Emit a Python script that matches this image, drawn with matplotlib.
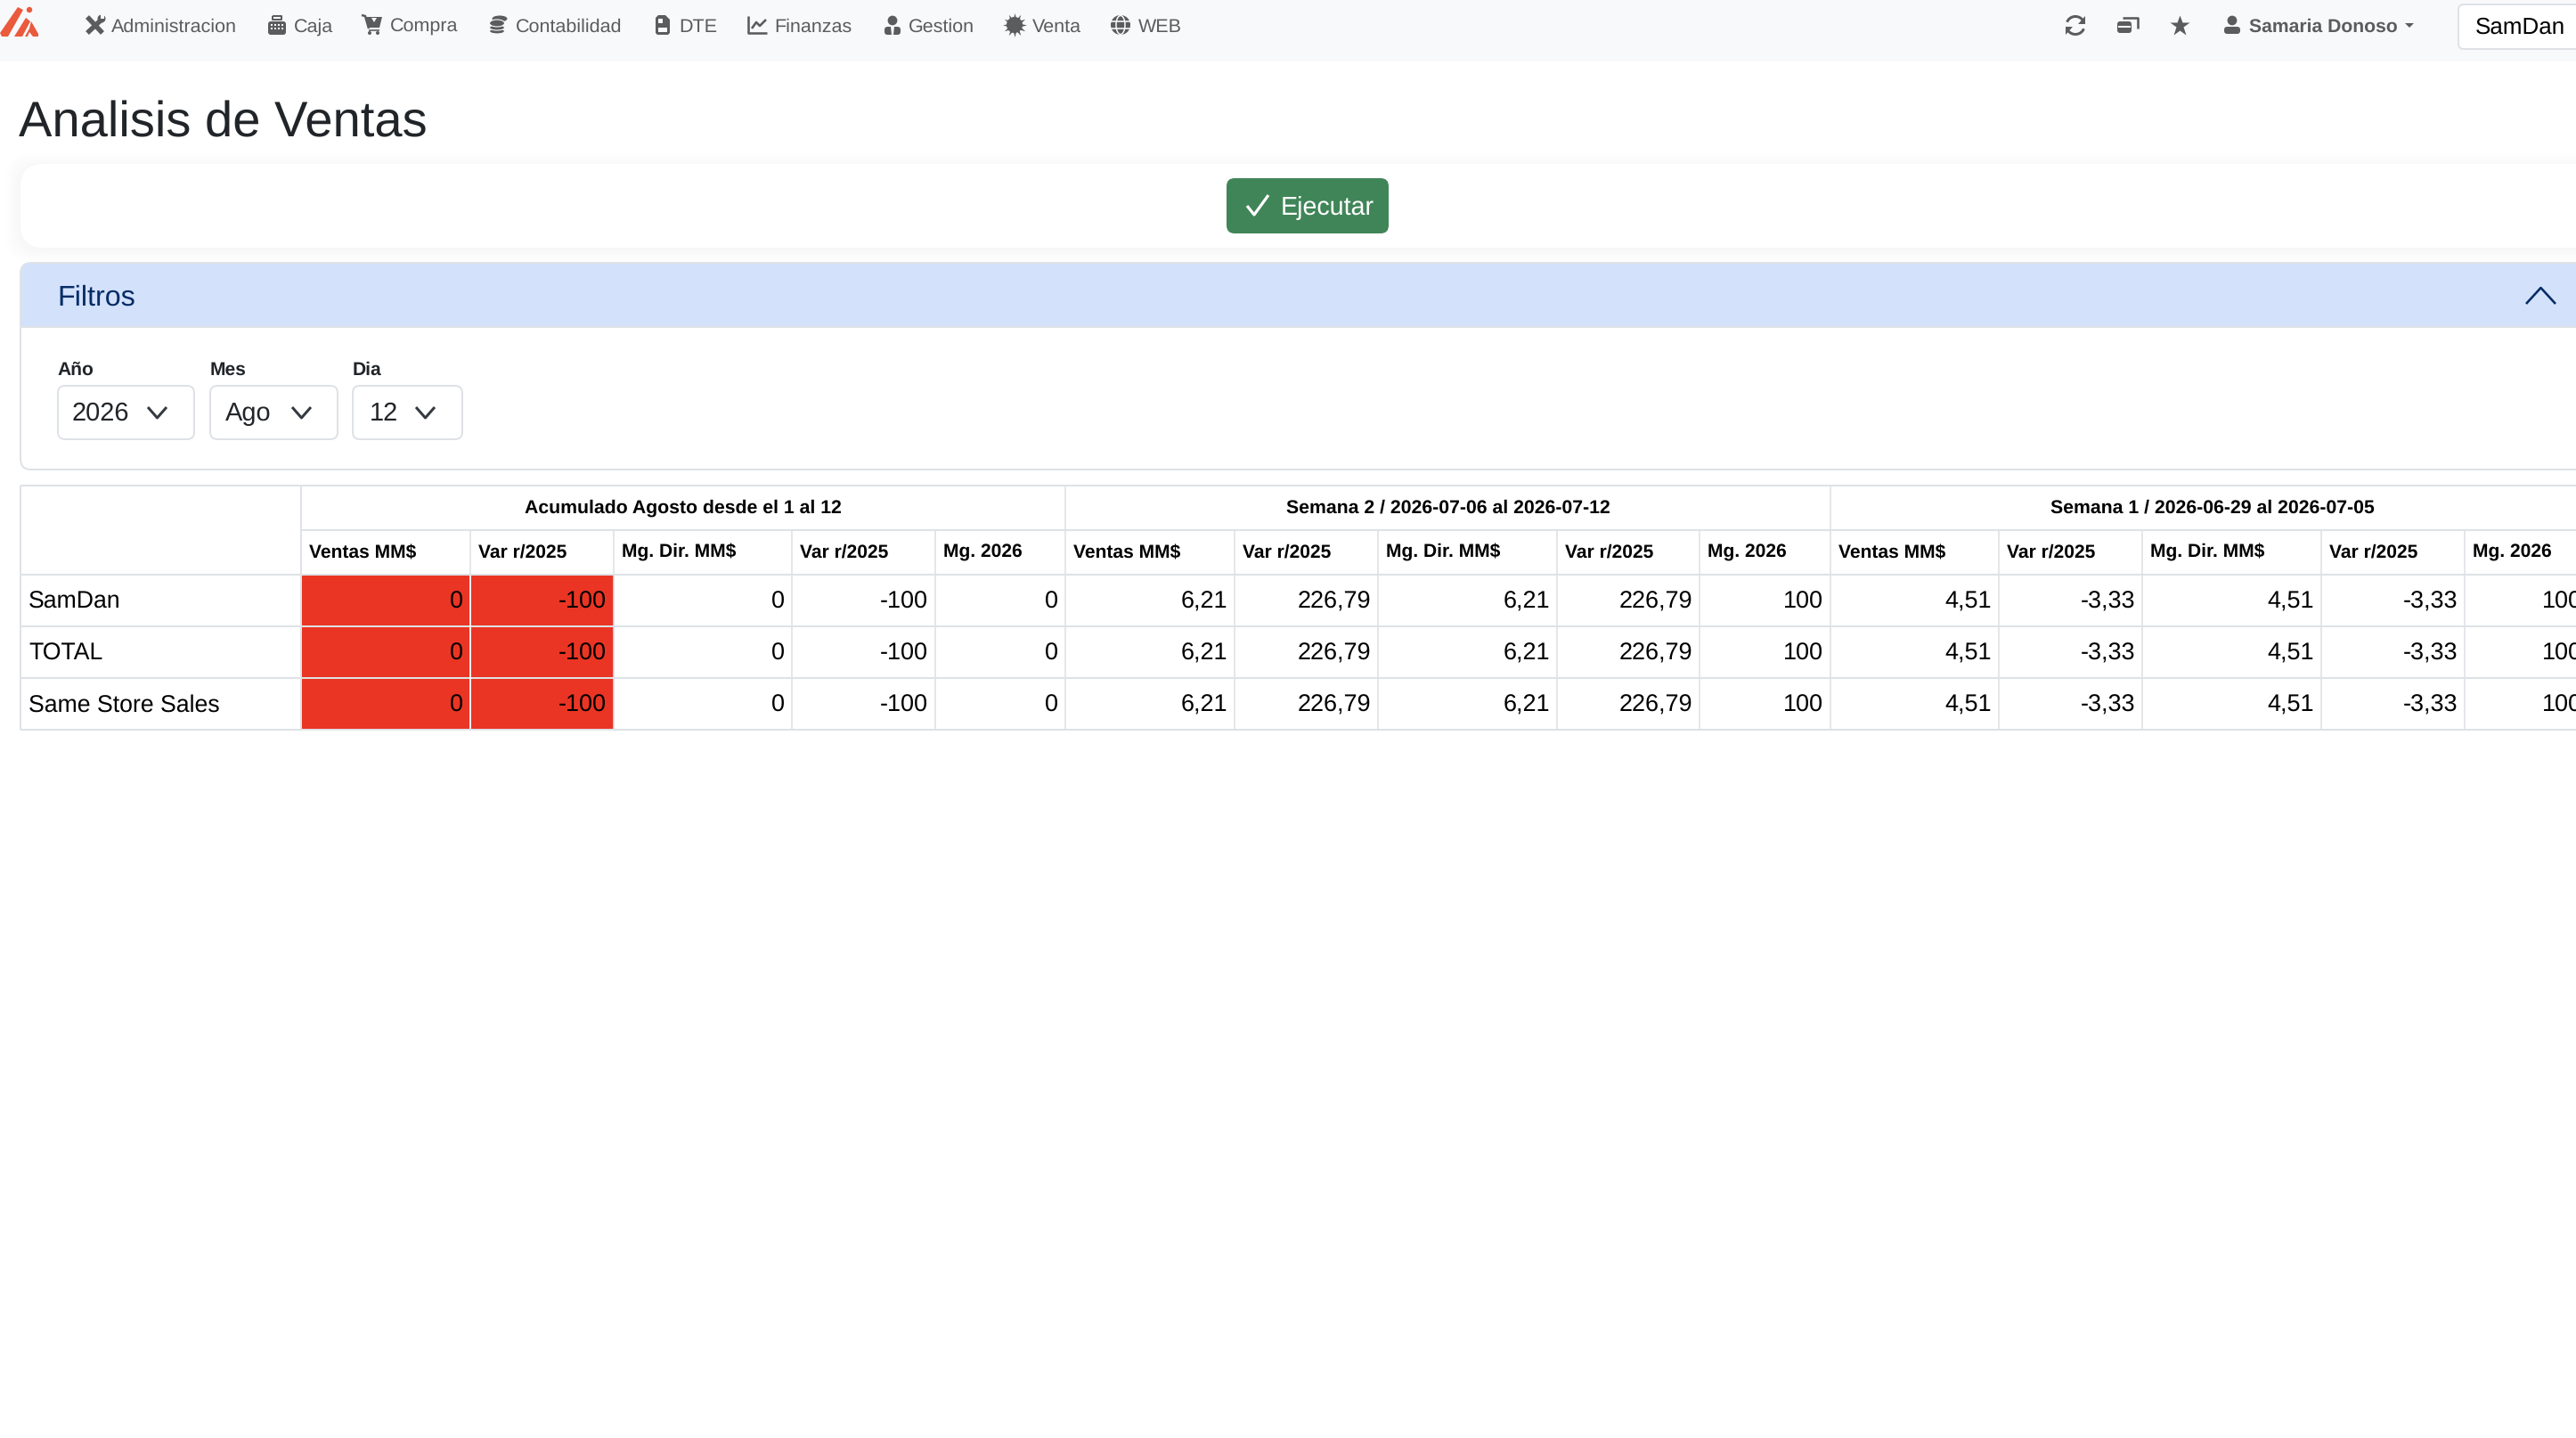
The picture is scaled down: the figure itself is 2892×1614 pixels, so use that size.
import matplotlib
matplotlib.use('Agg')
import matplotlib.pyplot as plt
import numpy as np
from matplotlib.patches import FancyBboxPatch, Rectangle, Polygon, Circle, Ellipse

plt.rcParams['font.family'] = ['Liberation Sans', 'DejaVu Sans']
plt.rcParams['text.hinting'] = 'no_hinting'

# datos de la tabla
filas = ['SamDan', 'TOTAL', 'Same Store Sales']
columnas = ['Ventas MM$', 'Var r/2025', 'Mg. Dir. MM$', 'Var r/2025', 'Mg. 2026']
grupos = ['Acumulado Agosto desde el 1 al 12',
          'Semana 2 / 2026-07-06 al 2026-07-12',
          'Semana 1 / 2026-06-29 al 2026-07-05']
acumulado = ['0', '-100', '0', '-100', '0']
semana2 = ['6,21', '226,79', '6,21', '226,79', '100']
semana1 = ['4,51', '-3,33', '4,51', '-3,33', '100']
valores = acumulado + semana2 + semana1
celdas_rojas = [0, 1]

menu = ['Administracion', 'Caja', 'Compra', 'Contabilidad', 'DTE', 'Finanzas', 'Gestion', 'Venta', 'WEB']
filtros = ['Año', 'Mes', 'Dia']
filtros_valor = ['2026', 'Ago', '12']

# posiciones en pixeles de la captura
W, H = 2892, 1614
x_col = [338, 528, 689, 889, 1050, 1196, 1386, 1547, 1748, 1908, 2055, 2244, 2405, 2606, 2767, 2913]
y_fila = [545, 595, 645, 703, 761, 819]
x_tabla = 23
menu_x = [125, 330, 438, 579, 762, 869, 1020, 1159, 1278]
menu_icono_x = [95, 300, 406, 549, 735, 839, 993, 1128, 1247]
filtro_cajas = [(65, 218), (236, 379), (396, 519)]
filtro_texto_x = [81, 253, 415]
filtro_chevron_x = [166, 328, 467]

BORDE = '#dee2e6'
ROJO = '#ea3524'
GRIS = '#5a5c5e'
AZUL = '#052c65'
NEGRO = '#212529'
FONDO = '#f8f9fa'


def fs(px):
    return px * 0.72


fig = plt.figure(figsize=(W / 100, H / 100), dpi=100, facecolor='white')
ax = fig.add_axes([0, 0, 1, 1])
ax.set_xlim(0, W)
ax.set_ylim(H, 0)
ax.axis('off')


def caja(x0, y0, x1, y1, r=8, fc='white', ec='none', lw=0, z=2, alpha=None):
    p = FancyBboxPatch((x0, y0), x1 - x0, y1 - y0, boxstyle=f'round,pad=0,rounding_size={r}',
                       fc=fc, ec=ec, lw=lw, zorder=z, alpha=alpha)
    ax.add_patch(p)


def rect(x0, y0, x1, y1, c, z=2):
    ax.add_patch(Rectangle((x0, y0), x1 - x0, y1 - y0, fc=c, ec='none', lw=0, zorder=z))


def linea(xs, ys, c=BORDE, lw=2.0, z=4):
    ax.plot(xs, ys, color=c, lw=lw * 0.72, zorder=z, solid_capstyle='butt', solid_joinstyle='round')


def poli(pts, c=GRIS, z=5):
    ax.add_patch(Polygon(pts, fc=c, ec='none', zorder=z))


def chevron(x0, x1, y0, y1, c=NEGRO, lw=3, arriba=False):
    xm = (x0 + x1) / 2
    if arriba:
        linea([x0, xm, x1], [y1, y0, y1], c, lw, 6)
    else:
        linea([x0, xm, x1], [y0, y1, y0], c, lw, 6)


# barra de navegacion
rect(0, 0, W, 69, FONDO)
for t, x in zip(menu, menu_x):
    ax.text(x, 36, t, fontsize=fs(21.5), color=GRIS, ha='left', va='baseline', zorder=5)

# logo
LOGO = '#ea5a3c'
poli([(0, 37), (20, 8), (26, 11), (9, 41), (2, 41)], LOGO)
poli([(16, 41), (29, 20), (34, 24), (25, 41)], LOGO)
poli([(28, 41), (33, 32), (35, 24), (43, 38), (43, 41), (37, 41), (33, 36), (31, 41)], LOGO)
ax.add_patch(Circle((33, 11), 3.2, fc=LOGO, ec='none', zorder=5))


def icono(i):
    x = menu_icono_x[i]
    if i == 0:  # herramientas
        linea([x + 3, x + 20], [19, 37], GRIS, 5.5, 5)
        linea([x + 20, x + 3], [21, 37], GRIS, 5.5, 5)
        ax.add_patch(Circle((x + 19, 21), 4.5, fc=GRIS, ec='none', zorder=5))
        rect(x + 18, 16, x + 22, 21, FONDO, 6)
    elif i == 1:  # caja registradora
        caja(x + 1, 24, x + 21, 39, 3, GRIS, z=5)
        linea([x + 6, x + 16, x + 16, x + 6, x + 6], [17.5, 17.5, 22, 22, 17.5], GRIS, 2, 5)
        for yy in (28, 32):
            for dx in (5, 9, 13, 17):
                rect(x + dx - 1, yy - 1, x + dx + 1, yy + 1, FONDO, 6)
    elif i == 2:  # carrito
        linea([x, x + 4, x + 8], [17, 18, 32], GRIS, 2.5, 5)
        poli([(x + 5, 19), (x + 23, 19), (x + 20, 31), (x + 8, 31)])
        poli([(x + 11, 20), (x + 17, 20), (x + 14, 25)], FONDO, 6)
        linea([x + 8, x + 20], [33.5, 33.5], GRIS, 1.6, 5)
        ax.add_patch(Circle((x + 9, 37), 2, fc=GRIS, ec='none', zorder=5))
        ax.add_patch(Circle((x + 18, 37), 2, fc=GRIS, ec='none', zorder=5))
    elif i == 3:  # monedas
        ax.add_patch(Ellipse((x + 12, 21), 17, 7, fc=GRIS, ec='none', zorder=5))
        ax.add_patch(Ellipse((x + 9, 26), 17, 8, fc=GRIS, ec=FONDO, lw=0.8, zorder=6))
        for yy in (31, 35):
            ax.add_patch(Ellipse((x + 9, yy), 17, 6, fc=GRIS, ec=FONDO, lw=0.8, zorder=5 - yy / 100))
    elif i == 4:  # archivo
        poli([(x + 1, 20), (x + 4, 17), (x + 12, 17), (x + 17, 22), (x + 17, 37), (x + 15, 39), (x + 3, 39), (x + 1, 37)])
        rect(x + 4, 21, x + 9, 26, FONDO, 6)
        rect(x + 4, 31, x + 14, 36, FONDO, 6)
    elif i == 5:  # grafico
        linea([x + 1, x + 1, x + 22], [18, 37, 37], GRIS, 2.6, 5)
        linea([x + 5, x + 10, x + 14, x + 21], [32, 25, 29, 22], GRIS, 2.6, 5)
    elif i == 6:  # persona
        ax.add_patch(Circle((x + 9, 23), 5.4, fc=GRIS, ec='none', zorder=5))
        caja(x, 30, x + 18, 39, 3.5, GRIS, z=5)
        poli([(x + 7, 30), (x + 11, 30), (x + 10, 39), (x + 8, 39)], FONDO, 6)
    elif i == 7:  # sello de venta
        ax.add_patch(Circle((x + 11, 28), 9, fc=GRIS, ec='none', zorder=5))
        ax.plot(x + 11, 28, marker=(12, 1, 0), ms=fs(27), color=GRIS, mec='none', zorder=5)
    elif i == 8:  # globo
        ax.add_patch(Circle((x + 11, 28), 11, fc=GRIS, ec='none', zorder=5))
        ax.add_patch(Ellipse((x + 11, 28), 10, 21, fc='none', ec=FONDO, lw=1.1, zorder=6))
        linea([x, x + 22], [24, 24], FONDO, 1.6, 6)
        linea([x, x + 22], [32, 32], FONDO, 1.6, 6)


for i in range(len(menu)):
    icono(i)

# lado derecho de la barra
ang = np.radians(np.linspace(200, 335, 20))
linea(2330 + 10 * np.cos(ang), 28 + 9.5 * np.sin(ang), GRIS, 3, 5)
ang = np.radians(np.linspace(20, 155, 20))
linea(2330 + 10 * np.cos(ang), 29 + 9.5 * np.sin(ang), GRIS, 3, 5)
poli([(2341, 18), (2341, 27), (2333, 27)])
poli([(2319, 39), (2319, 30), (2327, 30)])
caja(2377, 24, 2393, 37, 3, GRIS, z=5)
rect(2378, 29, 2392, 31, FONDO, 6)
linea([2383, 2400, 2400], [19.5, 19.5, 32], GRIS, 2.6, 5)
ax.plot(2447, 28.5, marker='*', ms=fs(24), color=GRIS, mec='none', zorder=5)
ax.add_patch(Circle((2506, 23), 5.4, fc=GRIS, ec='none', zorder=5))
caja(2497, 30, 2515, 38, 3.5, GRIS, z=5)
ax.text(2525, 36, 'Samaria Donoso', fontsize=fs(21.2), fontweight='bold', color=GRIS, ha='left', va='baseline', zorder=5)
poli([(2700, 26), (2710, 26), (2705, 31)])
caja(2760, 5, 2920, 55, 6, 'white', BORDE, 1.4, z=5)
ax.text(2779, 38, 'SamDan', fontsize=fs(26), color='black', ha='left', va='baseline', zorder=6)

# titulo
ax.text(21, 153, 'Analisis de Ventas', fontsize=fs(56.2), color=NEGRO, ha='left', va='baseline', zorder=5)

# tarjeta del boton con sombra
for k in range(8, 0, -1):
    caja(23 - k * 2, 184 - k * 2 + 4, W + 40, 278 + k * 2, 26, '#000000', z=1, alpha=0.004)
caja(23, 184, W + 40, 278, 26, 'white', z=2)
caja(1377, 200, 1559, 262, 9, '#408558', z=3)
linea([1400, 1408, 1424], [231, 241, 219], 'white', 3.2, 5)
ax.text(1438, 241, 'Ejecutar', fontsize=fs(28.6), color='white', ha='left', va='baseline', zorder=5)

# acordeon de filtros
caja(23, 295, W + 40, 527, 12, 'white', BORDE, 1.4, z=2)
caja(24, 295, W + 40, 340, 12, '#d3e1fb', z=3)
rect(24, 312, W, 367, '#d3e1fb', 3)
linea([24, W], [367, 367], BORDE, 2, 4)
linea([36, W], [295, 295], BORDE, 2, 4)
ax.text(64, 343, 'Filtros', fontsize=fs(32.3), color=AZUL, ha='left', va='baseline', zorder=5)
chevron(2836, 2869, 323, 341, AZUL, 2.6, arriba=True)

for t, v, (x0, x1), xt, xc in zip(filtros, filtros_valor, filtro_cajas, filtro_texto_x, filtro_chevron_x):
    ax.text(x0 - 1 + (t != 'Año'), 421, t, fontsize=fs(21), fontweight='bold', color=NEGRO, ha='left', va='baseline', zorder=5)
    caja(x0, 433, x1, 493, 8, 'white', BORDE, 1.4, z=3)
    ax.text(xt, 472, v, fontsize=fs(29), color=NEGRO, ha='left', va='baseline', zorder=5)
    chevron(xc, xc + 21, 457, 469, '#343a40', 3)

# tabla
for i in range(len(filas)):
    for j in celdas_rojas:
        rect(x_col[j], y_fila[i + 2], x_col[j + 1], y_fila[i + 3], ROJO, 2)

for y in y_fila:
    if y == y_fila[1]:
        linea([x_col[0], W], [y, y])
    else:
        linea([x_tabla, W], [y, y])
linea([x_tabla, x_tabla], [y_fila[0], y_fila[-1]])
linea([x_col[0], x_col[0]], [y_fila[0], y_fila[-1]])
for n, x in enumerate(x_col[1:-1]):
    y0 = y_fila[0] if (n + 1) % 5 == 0 else y_fila[1]
    linea([x, x], [y0, y_fila[-1]], BORDE, 1.6)
# separacion blanca entre las celdas rojas
linea([x_col[1], x_col[1]], [y_fila[2] + 1, y_fila[-1] - 1], 'white', 1.6, 5)

for g, titulo in enumerate(grupos):
    xc = (x_col[g * 5] + x_col[g * 5 + 5]) / 2
    ax.text(xc, 576, titulo, fontsize=fs(21.3), fontweight='bold', color='black', ha='center', va='baseline', zorder=5)
    for k, c in enumerate(columnas):
        ax.text(x_col[g * 5 + k] + 9, 626, c, fontsize=fs(21), fontweight='bold', color='black',
                ha='left', va='baseline', zorder=5)

for i, fila in enumerate(filas):
    yb = y_fila[i + 3] - 20
    ax.text(x_tabla + 9, yb, fila, fontsize=fs(26.6), color='black', ha='left', va='baseline', zorder=5)
    for j, v in enumerate(valores):
        # la ultima columna queda cortada por el borde, como en la captura
        xd = x_col[j + 1] - 8 - (6 if j == len(valores) - 1 else 0)
        ax.text(xd, yb, v, fontsize=fs(27), color='black', ha='right', va='baseline', zorder=5)

fig.savefig('out.png', dpi=100, facecolor='white')
